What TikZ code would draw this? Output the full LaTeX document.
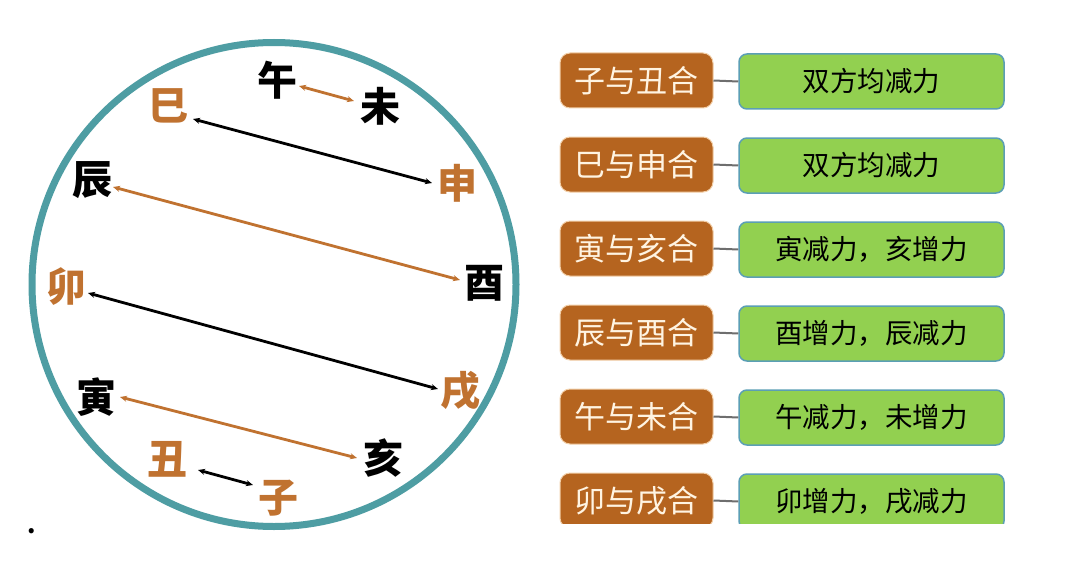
\documentclass[tikz,border=0pt]{standalone}
\usepackage{fontspec}
\newfontfamily\cjk{Noto Sans CJK SC}
\usetikzlibrary{arrows.meta,calc}
\definecolor{ringc}{HTML}{4E9DA3}
\definecolor{orgc}{HTML}{C07230}
\definecolor{brnc}{HTML}{B5641F}
\definecolor{brnedge}{HTML}{F2CFA8}
\definecolor{creamc}{HTML}{FFF4E2}
\definecolor{grnc}{HTML}{92D050}
\definecolor{grnedge}{HTML}{5B9FB5}
\definecolor{connc}{HTML}{6E6E6E}
\tikzset{
  zhi/.style={font=\cjk\bfseries\fontsize{40}{40}\selectfont, inner sep=0pt},
  zo/.style={zhi, text=orgc},
  zk/.style={zhi, text=black},
  hebox/.style={rounded corners=10pt, fill=brnc, draw=brnedge, line width=1pt,
    minimum width=153pt, minimum height=55pt, text=creamc,
    font=\cjk\fontsize{31}{31}\selectfont},
  effbox/.style={rounded corners=8pt, fill=grnc, draw=grnedge, line width=1.5pt,
    minimum width=265pt, minimum height=55pt, text=black,
    font=\cjk\fontsize{27.5}{27.5}\selectfont},
  link/.style={draw=connc, line width=2pt},
  pair/.style={line width=2.8pt, {Stealth[length=7pt,width=6pt]}-{Stealth[length=7pt,width=6pt]}},
  pairk/.style={pair, draw=black},
  pairo/.style={pair, draw=orgc}
}
\begin{document}
\begin{tikzpicture}[x=1pt, y=-1pt]
\useasboundingbox (0,0) rectangle (1080,586);
\fill[white] (0,0) rectangle (1080,586);
% ring
\draw[ringc, line width=7pt] (274,284.5) circle[radius=242pt];
% branches
\node[zk] (wu)   at (277,80)  {午};
\node[zk] (wei)  at (380,106) {未};
\node[zo] (si)   at (168,106) {巳};
\node[zo] (shen) at (457,183) {申};
\node[zk] (chen) at (92,180)  {辰};
\node[zk] (you)  at (484,283) {酉};
\node[zo] (mao)  at (66,287)  {卯};
\node[zo] (xu)   at (460,391) {戌};
\node[zk] (yin)  at (96,397)  {寅};
\node[zk] (hai)  at (383,458) {亥};
\node[zo] (chou) at (167,459) {丑};
\node[zo] (zi)   at (278,498) {子};
% pair arrows
\draw[pairo] ($(wu)+(22,6)$) -- ($(wei)+(-26,-5)$);
\draw[pairk] ($(si)+(25,13)$) -- ($(shen)+(-25,0)$);
\draw[pairo] ($(chen)+(21,7)$) -- ($(you)+(-24,-3)$);
\draw[pairk] ($(mao)+(22,6)$) -- ($(xu)+(-22,-2)$);
\draw[pairo] ($(yin)+(24,0)$) -- ($(hai)+(-26,0)$);
\draw[pairk] ($(chou)+(31,11)$) -- ($(zi)+(-25,-13)$);
% stray dot
\node[font=\cjk\bfseries\fontsize{24}{24}\selectfont, inner sep=0pt, anchor=base] (dot) at (32,533) {.};
% right table
\begin{scope}
\clip (540,0) rectangle (1080,523.5);
\foreach \i/\a/\b in {1/子与丑合/双方均减力, 2/巳与申合/双方均减力, 3/寅与亥合/寅减力，亥增力,
                      4/辰与酉合/酉增力，辰减力, 5/午与未合/午减力，未增力, 6/卯与戌合/卯增力，戌减力}{
  \node[hebox] (h\i) at (636.5, {80.5+84*(\i-1)}) {\a};
  \node[effbox] (e\i) at (871.5, {81.5+84*(\i-1)}) {\b};
  \draw[link] (h\i.east) -- (e\i.west);
}
\end{scope}
\end{tikzpicture}
\end{document}
